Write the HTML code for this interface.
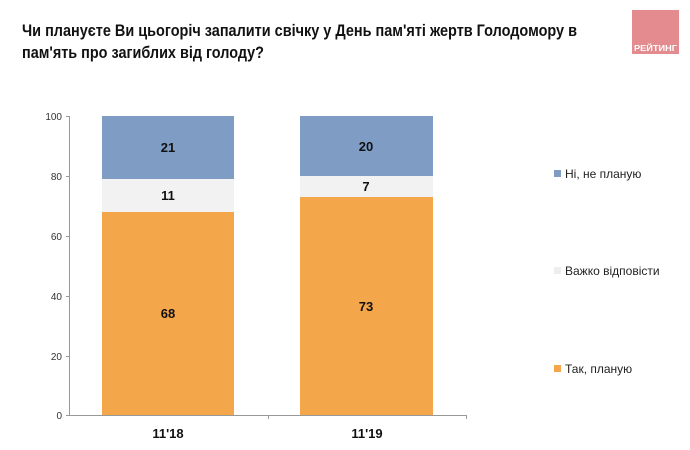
<!DOCTYPE html>
<html><head><meta charset="utf-8"><style>
html,body{margin:0;padding:0;background:#fff;width:690px;height:450px;overflow:hidden}
svg{display:block;font-family:"Liberation Sans Narrow","Liberation Sans",sans-serif}
</style></head><body>
<svg width="690" height="450" viewBox="0 0 690 450">
<text x="22" y="36" font-size="17" font-weight="bold" fill="#111" textLength="555" lengthAdjust="spacingAndGlyphs">Чи плануєте Ви цьогоріч запалити свічку у День пам'яті жертв Голодомору в</text>
<text x="22" y="58" font-size="17" font-weight="bold" fill="#111" textLength="242" lengthAdjust="spacingAndGlyphs">пам'ять про загиблих від голоду?</text>
<rect x="632" y="10" width="47" height="44" fill="#e38b8f"/>
<text x="655.5" y="51" font-size="8" font-weight="bold" fill="#fff" text-anchor="middle" textLength="43" lengthAdjust="spacingAndGlyphs">РЕЙТИНГ</text>
<g stroke="#999" stroke-width="1">
<line x1="69.5" y1="116" x2="69.5" y2="416"/>
<line x1="69" y1="415.5" x2="467" y2="415.5"/>
<line x1="66" y1="116.5" x2="69" y2="116.5"/><line x1="66" y1="176.5" x2="69" y2="176.5"/><line x1="66" y1="236.5" x2="69" y2="236.5"/><line x1="66" y1="296.5" x2="69" y2="296.5"/><line x1="66" y1="356.5" x2="69" y2="356.5"/><line x1="66" y1="415.5" x2="69" y2="415.5"/>
<line x1="268.5" y1="415" x2="268.5" y2="419"/><line x1="466.5" y1="415" x2="466.5" y2="419"/>
</g>
<g font-size="10" fill="#333" text-anchor="end" font-family="Liberation Sans,sans-serif">
<text x="62" y="120">100</text><text x="62" y="180">80</text><text x="62" y="240">60</text><text x="62" y="300">40</text><text x="62" y="360">20</text><text x="62" y="419">0</text>
</g>
<rect x="102" y="212" width="132" height="203" fill="#f4a64a"/>
<rect x="102" y="179" width="132" height="33" fill="#f2f2f2"/>
<rect x="102" y="116" width="132" height="63" fill="#7f9cc4"/>
<rect x="300" y="197" width="133" height="218" fill="#f4a64a"/>
<rect x="300" y="176" width="133" height="21" fill="#f2f2f2"/>
<rect x="300" y="116" width="133" height="60" fill="#7f9cc4"/>
<g font-size="13" font-weight="bold" fill="#111" text-anchor="middle" font-family="Liberation Sans,sans-serif">
<text x="168" y="152">21</text><text x="168" y="200">11</text><text x="168" y="318">68</text>
<text x="366" y="151">20</text><text x="366" y="191">7</text><text x="366" y="311">73</text>
<text x="168" y="438">11'18</text><text x="367" y="438">11'19</text>
</g>
<rect x="554" y="170" width="7" height="7" fill="#7f9cc4"/>
<rect x="554" y="267" width="7" height="7" fill="#eeeeee"/>
<rect x="554" y="365" width="7" height="7" fill="#f4a64a"/>
<g font-size="12" fill="#222">
<text x="565" y="178">Ні, не планую</text>
<text x="565" y="275">Важко відповісти</text>
<text x="565" y="373">Так, планую</text>
</g>
</svg>
</body></html>
